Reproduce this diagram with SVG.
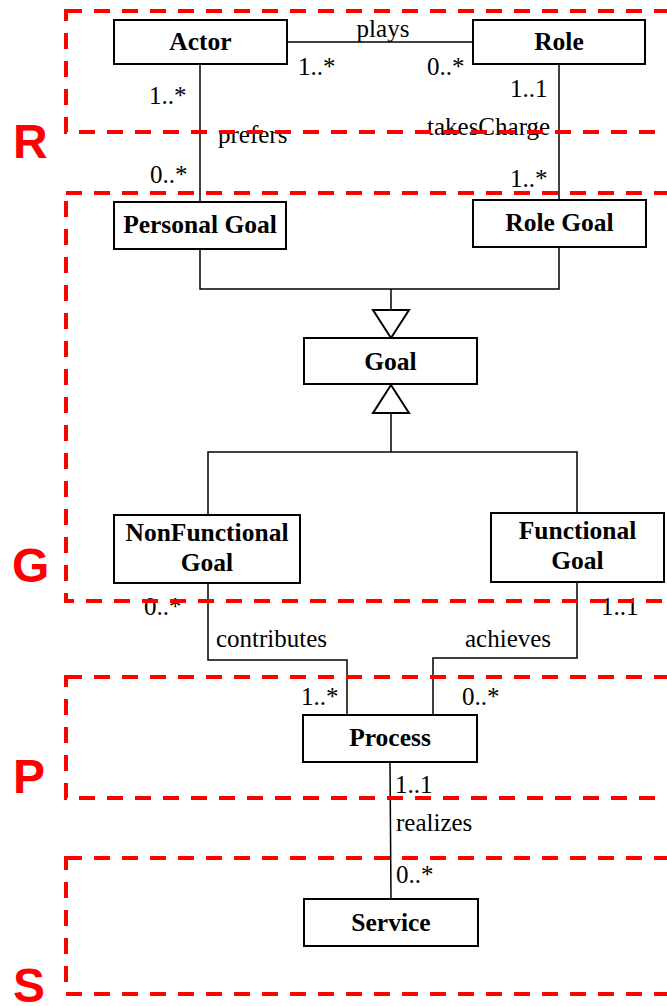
<svg xmlns="http://www.w3.org/2000/svg" width="667" height="1006" viewBox="0 0 667 1006">
<style>
.node rect{fill:#fff;stroke:#000;stroke-width:2}
.nt{font-family:"Liberation Serif","Times New Roman",serif;font-weight:bold;font-size:25.5px;text-anchor:middle;fill:#000}
.lbl{font-family:"Liberation Serif","Times New Roman",serif;font-size:25px;fill:#000}
.conn{fill:none;stroke:#000;stroke-width:1.5}
.tri{fill:#fff;stroke:#000;stroke-width:2}
.zone{fill:none;stroke:#ff0000;stroke-width:4;stroke-dasharray:16 12}
.zl{font-family:"Liberation Sans",Arial,sans-serif;font-weight:bold;font-size:48px;fill:#ff0000}
</style>
<g id="connectors">
<line class="conn" x1="287" y1="42" x2="473" y2="42"/>
<line class="conn" x1="200" y1="64" x2="200" y2="202"/>
<line class="conn" x1="559" y1="64" x2="559" y2="200"/>
<polyline class="conn" points="200,249 200,289 559,289 559,247"/>
<line class="conn" x1="391" y1="289" x2="391" y2="310"/>
<polygon class="tri" points="373,310 409,310 391,338"/>
<polygon class="tri" points="391,385 373,413 409,413"/>
<line class="conn" x1="391" y1="413" x2="391" y2="452"/>
<polyline class="conn" points="208,515 208,452 577,452 577,513"/>
<polyline class="conn" points="208,583 208,660 347,660 347,715"/>
<polyline class="conn" points="577,582 577,658 433,658 433,715"/>
<line class="conn" x1="390" y1="762" x2="391" y2="899"/>
<text class="lbl" x="383" y="37" text-anchor="middle">plays</text>
<text class="lbl" x="298" y="75">1..*</text>
<text class="lbl" x="427" y="75">0..*</text>
<text class="lbl" x="149" y="104">1..*</text>
<text class="lbl" x="218" y="143">prefers</text>
<text class="lbl" x="150" y="183">0..*</text>
<text class="lbl" x="510" y="97">1..1</text>
<text class="lbl" x="427" y="135">takesCharge</text>
<text class="lbl" x="510" y="187">1..*</text>
<text class="lbl" x="144" y="615">0..*</text>
<text class="lbl" x="601" y="615">1..1</text>
<text class="lbl" x="216" y="647">contributes</text>
<text class="lbl" x="465" y="647">achieves</text>
<text class="lbl" x="301" y="705">1..*</text>
<text class="lbl" x="462" y="705">0..*</text>
<text class="lbl" x="395" y="793">1..1</text>
<text class="lbl" x="396" y="831">realizes</text>
<text class="lbl" x="396" y="883">0..*</text>
</g>
<g id="actor" class="node"><rect x="114" y="20" width="173" height="44"/><text class="nt" x="200.5" y="50">Actor</text></g>
<g id="role" class="node"><rect x="473" y="20" width="172" height="44"/><text class="nt" x="559" y="50">Role</text></g>
<g id="personal-goal" class="node"><rect x="114" y="202" width="172" height="47"/><text class="nt" x="200" y="233">Personal Goal</text></g>
<g id="role-goal" class="node"><rect x="473" y="200" width="173" height="47"/><text class="nt" x="559.5" y="231">Role Goal</text></g>
<g id="goal" class="node"><rect x="304" y="338" width="173" height="46"/><text class="nt" x="390.5" y="370">Goal</text></g>
<g id="nonfunctional-goal" class="node"><rect x="114" y="515" width="186" height="68"/><text class="nt" x="207" y="541">NonFunctional</text><text class="nt" x="207" y="571">Goal</text></g>
<g id="functional-goal" class="node"><rect x="491" y="513" width="173" height="69"/><text class="nt" x="577.5" y="539">Functional</text><text class="nt" x="577.5" y="569">Goal</text></g>
<g id="process" class="node"><rect x="303" y="715" width="174" height="47"/><text class="nt" x="390" y="746">Process</text></g>
<g id="service" class="node"><rect x="304" y="899" width="174" height="47"/><text class="nt" x="391" y="931">Service</text></g>
<g id="zones">
<rect class="zone" x="66" y="11" width="640" height="121"/>
<rect class="zone" x="66" y="193" width="640" height="408"/>
<rect class="zone" x="66" y="677" width="640" height="121"/>
<rect class="zone" x="66" y="858" width="640" height="136"/>
<text class="zl" x="13" y="158">R</text>
<text class="zl" x="12" y="582">G</text>
<text class="zl" x="13" y="793">P</text>
<text class="zl" x="13" y="1002" font-size="46">S</text>
</g>
</svg>
